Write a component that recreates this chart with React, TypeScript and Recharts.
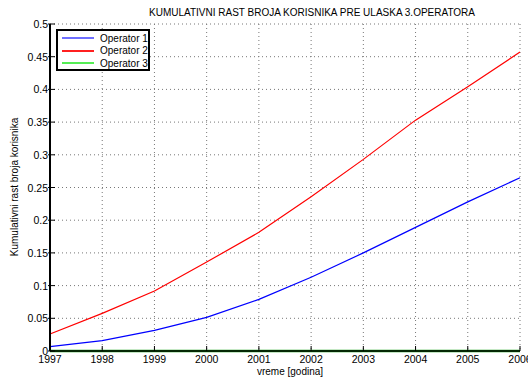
import React from 'react';
import {
    LineChart,
    Line,
    XAxis,
    YAxis,
    CartesianGrid,
    Legend,
} from 'recharts';

const years = [1997, 1998, 1999, 2000, 2001, 2002, 2003, 2004, 2005, 2006];
const operator1 = [0.0066, 0.0158, 0.0316, 0.0515, 0.079, 0.1127, 0.15, 0.189, 0.228, 0.265];
const operator2 = [0.026, 0.0576, 0.0917, 0.136, 0.1815, 0.236, 0.293, 0.353, 0.404, 0.457];
const operator3 = [0, 0, 0, 0, 0, 0, 0, 0, 0, 0];
const yTicks = [0, 0.05, 0.1, 0.15, 0.2, 0.25, 0.3, 0.35, 0.4, 0.45, 0.5];

const series = [
    { key: 'op1', name: 'Operator 1', color: '#0000ff', legendColor: '#6f6fff', width: 1.2 },
    { key: 'op2', name: 'Operator 2', color: '#ff0000', legendColor: '#ff2020', width: 1.2 },
    { key: 'op3', name: 'Operator 3', color: '#12a012', legendColor: '#55ee55', width: 2.5 },
];

const data = years.map((year, i) => ({
    year,
    op1: operator1[i],
    op2: operator2[i],
    op3: operator3[i],
}));

const FONT = '"Liberation Sans", Arial, Helvetica, sans-serif';

const BottomTick = ({ x, y, payload }: any) => (
    <g>
        <line x1={x} x2={x} y1={y} y2={y - 5} stroke="#000" />
        <text x={x} y={y + 12} textAnchor="middle" fontSize={10.5} fill="#000">
            {payload.value}
        </text>
    </g>
);

const TopTick = ({ x, y }: any) => (
    <line x1={x} x2={x} y1={y} y2={y + 5} stroke="#000" />
);

const LeftTick = ({ x, y, payload }: any) => (
    <g>
        <line x1={x - 2} x2={x + 5} y1={y} y2={y} stroke="#000" />
        <text x={x - 2} y={y + 4} textAnchor="end" fontSize={10.5} fill="#000">
            {payload.value}
        </text>
    </g>
);

const RightTick = ({ x, y }: any) => (
    <line x1={x} x2={x - 5} y1={y} y2={y} stroke="#222" />
);

const LegendBox = () => (
    <div
        style={{
            border: '2px solid #000',
            background: '#fff',
            width: 90,
            height: 37,
            boxSizing: 'content-box',
            fontFamily: FONT,
            fontSize: 10,
            paddingTop: 1,
            whiteSpace: 'nowrap',
            textAlign: 'left',
        }}
    >
        {series.map((s) => (
            <div key={s.key} style={{ display: 'flex', alignItems: 'center', height: 12.5 }}>
                <span
                    style={{
                        display: 'inline-block',
                        width: 32,
                        height: 0,
                        borderTop: `2px solid ${s.legendColor}`,
                        marginLeft: 4,
                        marginRight: 6,
                    }}
                />
                <span>{s.name}</span>
            </div>
        ))}
    </div>
);

export default function App() {
    return (
        <div
            style={{
                position: 'absolute',
                left: 0,
                top: 0,
                width: 528,
                height: 379,
                background: '#fff',
                fontFamily: FONT,
                overflow: 'hidden',
            }}
        >
            <div
                style={{
                    position: 'absolute',
                    top: 7,
                    left: 312,
                    transform: 'translateX(-50%)',
                    whiteSpace: 'nowrap',
                    fontSize: 10,
                    color: '#000',
                }}
            >
                KUMULATIVNI RAST BROJA KORISNIKA PRE ULASKA 3.OPERATORA
            </div>
            <div
                style={{
                    position: 'absolute',
                    top: 187,
                    left: 14,
                    transform: 'translate(-50%, -50%) rotate(-90deg)',
                    whiteSpace: 'nowrap',
                    fontSize: 10,
                    color: '#000',
                }}
            >
                Kumulativni rast broja korisnika
            </div>
            <div
                style={{
                    position: 'absolute',
                    top: 366,
                    left: 290,
                    transform: 'translateX(-50%)',
                    whiteSpace: 'nowrap',
                    fontSize: 10,
                    color: '#000',
                }}
            >
                vreme [godina]
            </div>
            <LineChart
                width={528}
                height={379}
                data={data}
                margin={{ top: 24, right: 8, bottom: 0, left: 0 }}
                style={{ fontFamily: FONT }}
            >
                <CartesianGrid stroke="#777" strokeDasharray="1 3" />
                <XAxis
                    dataKey="year"
                    type="number"
                    domain={[1997, 2006]}
                    ticks={years}
                    height={28}
                    tickSize={0}
                    tickMargin={0}
                    tickLine={false}
                    tick={<BottomTick />}
                    axisLine={{ stroke: '#000', strokeWidth: 1.5 }}
                    interval={0}
                />
                <XAxis
                    xAxisId="top"
                    orientation="top"
                    dataKey="year"
                    type="number"
                    domain={[1997, 2006]}
                    ticks={years}
                    height={0}
                    tickSize={0}
                    tickMargin={0}
                    tickLine={false}
                    tick={<TopTick />}
                    axisLine={{ stroke: '#000', strokeWidth: 1.5 }}
                    interval={0}
                />
                <YAxis
                    domain={[0, 0.5]}
                    ticks={yTicks}
                    width={50}
                    tickSize={0}
                    tickMargin={0}
                    tickLine={false}
                    tick={<LeftTick />}
                    axisLine={{ stroke: '#000', strokeWidth: 2 }}
                    interval={0}
                />
                <YAxis
                    yAxisId="right"
                    orientation="right"
                    domain={[0, 0.5]}
                    ticks={yTicks}
                    width={0}
                    tickSize={0}
                    tickMargin={0}
                    tickLine={false}
                    tick={<RightTick />}
                    axisLine={{ stroke: '#333', strokeWidth: 2.5 }}
                    interval={0}
                />
                {series.map((s) => (
                    <Line
                        key={s.key}
                        type="linear"
                        dataKey={s.key}
                        name={s.name}
                        stroke={s.color}
                        strokeWidth={s.width}
                        dot={false}
                        activeDot={false}
                        isAnimationActive={false}
                    />
                ))}
                <Legend
                    layout="vertical"
                    align="center"
                    verticalAlign="middle"
                    content={<LegendBox />}
                    wrapperStyle={{ left: 56, top: 29, width: 94, height: 41 }}
                />
            </LineChart>
        </div>
    );
}
